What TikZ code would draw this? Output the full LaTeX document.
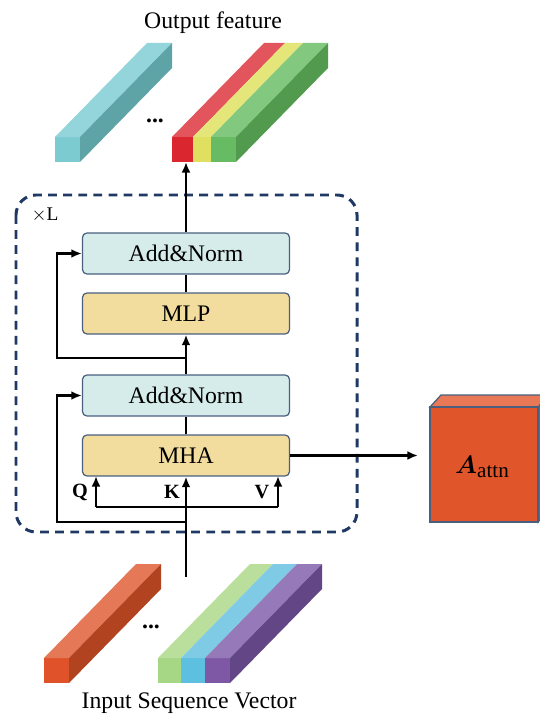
\documentclass[tikz,border=0pt]{standalone}
\usepackage{amsmath,amssymb,bm}
\usepackage{fontspec}
\setmainfont{Liberation Serif}
\usepackage{tikz}
\usetikzlibrary{arrows.meta}

\definecolor{navy}{HTML}{1F3864}
\definecolor{boxline}{HTML}{4A5F7E}
\definecolor{normfill}{HTML}{D5ECEB}
\definecolor{blockfill}{HTML}{F2DD9E}
\definecolor{cyanfront}{HTML}{7CCBD0}
\definecolor{cyantop}{HTML}{93D5DA}
\definecolor{cyanside}{HTML}{5EA3A6}
\definecolor{redfront}{HTML}{D9262F}
\definecolor{redtop}{HTML}{E3555C}
\definecolor{yelfront}{HTML}{E0E060}
\definecolor{yeltop}{HTML}{E4E67A}
\definecolor{grnfront}{HTML}{66BB63}
\definecolor{grntop}{HTML}{82C87E}
\definecolor{grnside}{HTML}{529B4E}
\definecolor{orgfront}{HTML}{E0522A}
\definecolor{orgtop}{HTML}{E57856}
\definecolor{orgside}{HTML}{B14321}
\definecolor{limefront}{HTML}{A6D785}
\definecolor{limetop}{HTML}{BADF9C}
\definecolor{bluefront}{HTML}{5EC0E0}
\definecolor{bluetop}{HTML}{7FCBE5}
\definecolor{purfront}{HTML}{7E57A5}
\definecolor{purtop}{HTML}{9579B8}
\definecolor{purside}{HTML}{634685}
\definecolor{attnfront}{HTML}{E0552A}
\definecolor{attntop}{HTML}{E87856}
\definecolor{attnside}{HTML}{C04A22}

% one strip of a feature bar: x0, x1, front top y, front colour, top colour
\newcommand{\barstrip}[5]{%
\fill[#4] (#1,#3) rectangle (#2,#3+25);
\fill[#5] (#1,#3) -- (#2,#3) -- (#2+92,#3-94) -- (#1+92,#3-94) -- cycle;}
% side face of a feature bar: x1, front top y, colour
\newcommand{\barside}[3]{%
\fill[#3] (#1,#2) -- (#1+92,#2-94) -- (#1+92,#2-69) -- (#1,#2+25) -- cycle;}

\begin{document}
\begin{tikzpicture}[x=0.02cm,y=-0.02cm,
  font=\fontsize{13.5}{16}\selectfont,
  block/.style={draw=boxline,line width=0.7pt,rounded corners=2.5pt,
    minimum width=4.14cm,minimum height=0.82cm,inner sep=0pt},
  norm/.style={block,fill=normfill},
  layer/.style={block,fill=blockfill},
  arr/.style={draw=black,line width=1.3pt,-{Latex[length=6pt,width=5pt]}},
  wire/.style={draw=black,line width=1.3pt}]
\useasboundingbox (0,0) rectangle (539,715);

% output features
\barstrip{55}{80}{137}{cyanfront}{cyantop}
\barside{80}{137}{cyanside}
\barstrip{172}{193}{137}{redfront}{redtop}
\barstrip{193}{211}{137}{yelfront}{yeltop}
\barstrip{211}{236}{137}{grnfront}{grntop}
\barside{236}{137}{grnside}
\node (outdots) at (155,121) {\textbf{...}};
\node (outlabel) at (213,23) {Output feature};

% input features
\barstrip{44}{69}{658}{orgfront}{orgtop}
\barside{69}{658}{orgside}
\barstrip{158}{181}{658}{limefront}{limetop}
\barstrip{181}{205}{658}{bluefront}{bluetop}
\barstrip{205}{230}{658}{purfront}{purtop}
\barside{230}{658}{purside}
\node (indots) at (151,627) {\textbf{...}};
\node (inlabel) at (189,703) {Input Sequence Vector};

% encoder layer
\draw[navy,line width=1.7pt,dash pattern=on 5pt off 3.6pt,rounded corners=0.4cm]
  (16,195) rectangle (357,532);
\node (times) at (45,215) {\fontsize{11}{13}\selectfont$\times$L};
\node[norm] (an2) at (186,253.5) {Add\&Norm};
\node[layer] (mlp) at (186,313.5) {MLP};
\node[norm] (an1) at (186,395.5) {Add\&Norm};
\node[layer] (mha) at (186,455.5) {MHA};

% attention map
\filldraw[fill=attnside,draw=boxline,line width=0.7pt] (538,407) -- (549,395) -- (549,510) -- (538,522) -- cycle;
\filldraw[fill=attntop,draw=boxline,line width=0.7pt] (430,407) -- (441,395) -- (549,395) -- (538,407) -- cycle;
\node[draw=boxline,fill=attnfront,line width=0.7pt,minimum width=2.16cm,minimum height=2.3cm,inner sep=0pt] (attn) at (484,464.5) {};
\node (attnlabel) at (482,467) {\fontsize{15}{17}\selectfont$\bm{A}$\raisebox{-0.35ex}{\fontsize{12}{14}\selectfont attn}};

\coordinate (outtip) at (186,162);
\coordinate (in) at (186,577);
\coordinate (split1) at (186,522);
\coordinate (left1) at (57,522);
\coordinate (split2) at (186,358);
\coordinate (left2) at (57,358);
\coordinate (qk) at (96,507);
\coordinate (vk) at (278,507);
\coordinate (qtip) at (96,476);
\coordinate (vtip) at (278,476);
\coordinate (atip) at (418,455.5);

\path [arr] (an2.north) -- (outtip);
\path [wire] (mlp.north) -- (an2.south);
\path [arr] (an1.north) -- (mlp.south);
\path [wire] (mha.north) -- (an1.south);
\path [arr] (in) -- (mha.south);
\path [arr] (split1) -- (left1) |- (an1.west);
\path [arr] (split2) -- (left2) |- (an2.west);
\path [wire] (qk) -- (vk);
\path [arr] (qk) -- (qtip);
\path [arr] (vk) -- (vtip);
\path [arr] (mha.east) -- (atip);

\node[font=\fontsize{11.5}{13}\selectfont\bfseries] (q) at (80,492) {Q};
\node[font=\fontsize{11.5}{13}\selectfont\bfseries] (k) at (172,492) {K};
\node[font=\fontsize{11.5}{13}\selectfont\bfseries] (v) at (262,492) {V};
\end{tikzpicture}
\end{document}
